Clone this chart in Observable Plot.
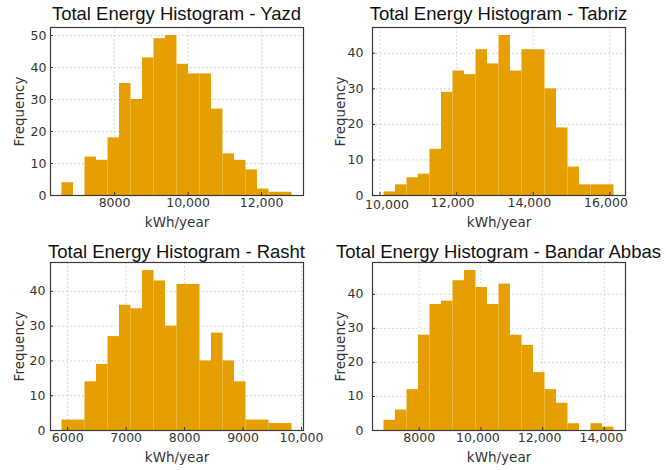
<!DOCTYPE html>
<html>
<head>
<meta charset="utf-8">
<script src="https://cdn.jsdelivr.net/npm/d3@7"></script>
<script src="https://cdn.jsdelivr.net/npm/@observablehq/plot@0.6"></script>
<style>
  body { margin: 0; background: white; }
  #root { position: relative; width: 666px; height: 470px; overflow: hidden; background: white; }
  .panel { position: absolute; width: 333px; height: 235px; }
  .title { position: absolute; white-space: nowrap; text-align: center; font-family: "Liberation Sans", Arial, sans-serif; font-size: 18.5px; line-height: 18.5px; color: #111; }
  .panel svg { position: absolute; left: 0; top: 24px; overflow: visible; }
</style>
</head>
<body>
<div id="root"></div>
<script>
// ---- data ----
const cities = ["Yazd", "Tabriz", "Rasht", "Bandar Abbas"];

const yazdCounts   = [4, 0, 12, 11, 18, 35, 30, 43, 49, 50, 41, 38, 38, 27, 13, 11, 8, 2, 1, 1];
const tabrizCounts = [1, 3, 5, 6, 13, 29, 35, 34, 41, 37, 45, 35, 41, 41, 30, 19, 8, 3, 3, 3];
const rashtCounts  = [3, 3, 14, 19, 27, 36, 35, 46, 43, 30, 42, 42, 20, 28, 20, 14, 3, 3, 2, 2];
const bandarCounts = [3, 6, 12, 28, 37, 38, 44, 47, 42, 37, 43, 28, 25, 17, 12, 8, 2, 0, 2, 1];

// histogram range (first bin left edge, last bin right edge), kWh/year
const binMin = [6570, 10105, 5902, 6859];
const binMax = [12827, 16105, 9838, 14313];

const yazdXTicks   = [8000, 10000, 12000];
const tabrizXTicks = [10000, 12000, 14000, 16000];
const rashtXTicks  = [6000, 7000, 8000, 9000, 10000];
const bandarXTicks = [8000, 10000, 12000, 14000];

const yazdYTicks   = [0, 10, 20, 30, 40, 50];
const otherYTicks  = [0, 10, 20, 30, 40];

const titlePrefix = "Total Energy Histogram - ";
const xLabel = "kWh/year";
const yLabel = "Frequency";

// ---- drawing ----
const fmt = d => d >= 10000 ? d3.format(",")(d) : String(d);
const barColor = "#E69F00";

function panel(opts) {
  const {counts, lo, hi, xt, yt, ml, mr, yPad, xPad, fdx, firstDx, restDx} = opts;
  const n = counts.length, w = (hi - lo) / n;
  const bins = counts.map((c, i) => ({x1: lo + i * w, x2: lo + (i + 1) * w, c}));
  const r = hi - lo;
  const ymax = d3.max(counts) * 1.05;
  const grid = {stroke: "#cfcfcf", strokeOpacity: 1, strokeDasharray: "2,2", strokeWidth: 0.8};
  return Plot.plot({
    width: 333, height: 211,
    marginTop: 3, marginBottom: 40, marginLeft: ml, marginRight: mr,
    style: {fontFamily: "DejaVu Sans", fontSize: "12.5px", color: "#333", background: "transparent", overflow: "visible"},
    x: {domain: [lo - 0.05 * r, hi + 0.05 * r]},
    y: {domain: [0, ymax]},
    marks: [
      Plot.gridX(xt, grid),
      Plot.gridY(yt, grid),
      Plot.rectY(bins, {x1: "x1", x2: "x2", y: "c", fill: barColor, inset: 0}),
      Plot.frame({stroke: "#3a3a3a", strokeWidth: 1.2}),
      Plot.axisX(xt.slice(0, 1), {tickSize: 0, tickPadding: xPad, tickFormat: fmt, label: null, dx: firstDx, dy: firstDx ? 2 : 0}),
      Plot.axisX(xt.slice(1), {tickSize: 0, tickPadding: xPad, tickFormat: fmt, label: null, dx: restDx}),
      Plot.axisX(xt, {tickSize: 3, dy: -3, tickFormat: () => "", label: null, stroke: "#333"}),
      Plot.axisY(yt, {tickSize: 0, tickPadding: yPad, label: null}),
      Plot.axisY(yt, {tickSize: 3, dx: 3, tickFormat: () => "", label: null, stroke: "#333"}),
      Plot.text([xLabel], {frameAnchor: "bottom", lineAnchor: "middle", textAnchor: "middle", dy: 27, fontSize: 13.5, fill: "#333"}),
      Plot.text([yLabel], {frameAnchor: "left", lineAnchor: "middle", textAnchor: "middle", rotate: -90, dx: fdx, fontSize: 13.5, fill: "#333"})
    ]
  });
}

const specs = [
  {city: cities[0], counts: yazdCounts,   lo: binMin[0], hi: binMax[0], xt: yazdXTicks,   yt: yazdYTicks,  ml: 50, mr: 30, yPad: 4, xPad: 3, fdx: -31, firstDx: 0, restDx: 0,  left: 0,   top: 0,   titleTop: 5},
  {city: cities[1], counts: tabrizCounts, lo: binMin[1], hi: binMax[1], xt: tabrizXTicks, yt: otherYTicks, ml: 39, mr: 41, yPad: 9, xPad: 3, fdx: -32, firstDx: 7, restDx: -4, left: 333, top: 0,   titleTop: 5},
  {city: cities[2], counts: rashtCounts,  lo: binMin[2], hi: binMax[2], xt: rashtXTicks,  yt: otherYTicks, ml: 50, mr: 30, yPad: 5, xPad: 3, fdx: -31, firstDx: 0, restDx: 0,  left: 0,   top: 235, titleTop: 7.5},
  {city: cities[3], counts: bandarCounts, lo: binMin[3], hi: binMax[3], xt: bandarXTicks, yt: otherYTicks, ml: 39, mr: 41, yPad: 9, xPad: 3, fdx: -32, firstDx: 0, restDx: -3, left: 333, top: 235, titleTop: 7.5}
];

const root = document.getElementById("root");
for (const s of specs) {
  const div = document.createElement("div");
  div.className = "panel";
  div.style.left = s.left + "px";
  div.style.top = s.top + "px";
  const t = document.createElement("div");
  t.className = "title";
  t.textContent = titlePrefix + s.city;
  const frameW = 333 - s.ml - s.mr;
  t.style.left = (s.ml - 100) + "px";
  t.style.width = (frameW + 200) + "px";
  t.style.top = s.titleTop + "px";
  div.appendChild(t);
  div.appendChild(panel(s));
  root.appendChild(div);
}
</script>
</body>
</html>
